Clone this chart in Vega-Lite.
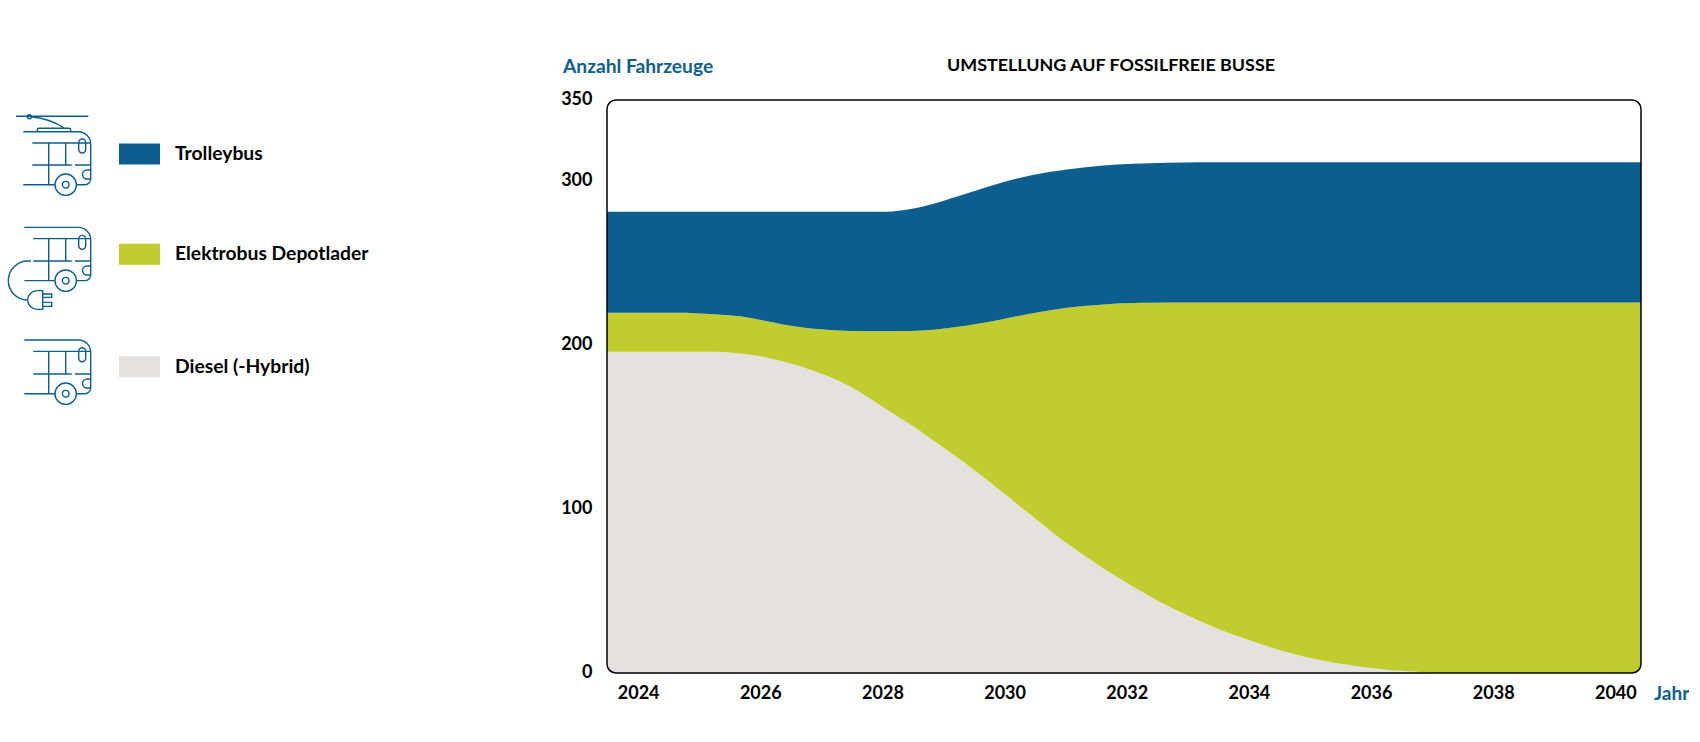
{
  "$schema": "https://vega.github.io/schema/vega-lite/v6.json",
  "background": "white",
  "padding": {"left": 0, "top": 57, "right": 0, "bottom": 0},
  "bounds": "flush",
  "spacing": 0,
  "config": {
    "view": {"stroke": null},
    "font": "Lato",
    "axis": {"labelFont": "Lato", "titleFont": "Lato"}
  },
  "hconcat": [
    {
      "width": 606.5,
      "height": 573,
      "data": {
        "values": [
          {"series": "Trolleybus"},
          {"series": "Elektrobus  Depotlader"},
          {"series": "Diesel (-Hybrid)"}
        ]
      },
      "encoding": {
        "y": {
          "field": "series",
          "type": "nominal",
          "axis": null,
          "sort": null,
          "scale": {
            "type": "point",
            "domain": ["Trolleybus", "Elektrobus  Depotlader", "Diesel (-Hybrid)"],
            "range": [54, 266.7],
            "padding": 0
          }
        }
      },
      "layer": [
        {
          "mark": {
            "type": "point",
            "filled": false,
            "size": 4,
            "stroke": "#0B5E8E",
            "strokeWidth": 1.4,
            "opacity": 1,
            "yOffset": {"expr": "datum.series === 'Elektrobus  Depotlader' ? -6 : 0"}
          },
          "encoding": {
            "x": {"datum": 65, "type": "quantitative", "axis": null, "scale": {"domain": [0, 606.5], "nice": false}},
            "shape": {
              "field": "series",
              "type": "nominal",
              "legend": null,
              "scale": {
                "domain": ["Trolleybus", "Elektrobus  Depotlader", "Diesel (-Hybrid)"],
                "range": [
                  "M-49,-37.7H23.3M-33.7,-37.3A2,2 0 1 1 -37.7,-37.3A2,2 0 1 1 -33.7,-37.3M-33.7,-37.2Q-14,-35 -1,-26M-27.7,-22.3V-24.5Q-27.7,-25.7 -26,-25.7H4Q5.7,-25.7 5.7,-22.3M-41.7,-22.3H13.3A12.4,12.4 0 0 1 25.7,-10V25A5.7,5.7 0 0 1 20,30.7H11M-10,30.7H-41.7M11.4,30.7A10.7,10.7 0 1 1 -10,30.7A10.7,10.7 0 1 1 11.4,30.7M4,30.7A3.3,3.3 0 1 1 -2.6,30.7A3.3,3.3 0 1 1 4,30.7M-32.7,-11H25.7M-32.7,11H6.7M10,11H25.7M-16.3,-11V30.7M0.7,-11V11M13.7,-11.5A3.5,3.5 0 0 1 20.7,-11.5V-4.5A3.5,3.5 0 0 1 13.7,-4.5ZM25.7,16H22A4.5,4.5 0 0 0 22,25H25.7",
                  "M-40.7,-27H13.3A12.3,12.3 0 0 1 25.7,-14.7V20.6A5.7,5.7 0 0 1 20,26.3H11M-10,26.3H-40.7M11.4,26.3A10.7,10.7 0 1 1 -10,26.3A10.7,10.7 0 1 1 11.4,26.3M4,26.3A3.3,3.3 0 1 1 -2.6,26.3A3.3,3.3 0 1 1 4,26.3M-31.7,-15.7H25.7M-31.7,6.7H6.7M10,6.7H25.7M-16.3,-15.7V26.3M0.7,-15.7V6.7M13.7,-15.5A3.5,3.5 0 0 1 20.7,-15.5V-8.5A3.5,3.5 0 0 1 13.7,-8.5ZM25.7,11.7H22A4.5,4.5 0 0 0 22,20.7H25.7M-34,6.7H-36.7A19.5,19.5 0 0 0 -37.7,45.7M-22.3,36.3V55H-28A9.3,9.3 0 0 1 -28,36.3ZM-22.3,39.7H-13.3V43H-22.3M-22.3,48H-13.3V52H-22.3",
                  "M-40.7,-26.7H13.3A12.3,12.3 0 0 1 25.7,-14.4V21.3A5.7,5.7 0 0 1 20,27H11M-10,27H-40.7M11.4,27A10.7,10.7 0 1 1 -10,27A10.7,10.7 0 1 1 11.4,27M4,27A3.3,3.3 0 1 1 -2.6,27A3.3,3.3 0 1 1 4,27M-31.7,-15.3H25.7M-31.7,7.3H6.7M10,7.3H25.7M-16.3,-15.3V27M0.7,-15.3V7.3M13.7,-15.5A3.5,3.5 0 0 1 20.7,-15.5V-8.5A3.5,3.5 0 0 1 13.7,-8.5ZM25.7,12.3H22A4.5,4.5 0 0 0 22,21.3H25.7"
                ]
              }
            }
          }
        },
        {
          "mark": {
            "type": "rect",
            "height": 21,
            "yOffset": {"expr": "datum.series === 'Elektrobus  Depotlader' ? -6 : 0"}
          },
          "encoding": {
            "x": {"datum": 119, "type": "quantitative"},
            "x2": {"datum": 160},
            "color": {
              "field": "series",
              "type": "nominal",
              "legend": null,
              "scale": {
                "domain": ["Trolleybus", "Elektrobus  Depotlader", "Diesel (-Hybrid)"],
                "range": ["#0B5E8E", "#C1CD2F", "#E4E1DE"]
              }
            }
          }
        },
        {
          "mark": {
            "type": "text",
            "align": "left",
            "baseline": "middle",
            "font": "Lato",
            "fontWeight": "bold",
            "fontSize": 19.3,
            "color": "#000000",
            "yOffset": {"expr": "datum.series === 'Elektrobus  Depotlader' ? -6 : 0"}
          },
          "encoding": {
            "x": {"datum": 175, "type": "quantitative"},
            "text": {"field": "series", "type": "nominal"}
          }
        }
      ]
    },
    {
      "width": 1034,
      "height": 573,
      "title": {
        "text": "UMSTELLUNG AUF FOSSILFREIE BUSSE",
        "font": "Lato",
        "fontWeight": "bold",
        "fontSize": 17.9,
        "color": "#000000",
        "anchor": "middle",
        "dx": -13,
        "offset": -18
      },
      "layer": [
        {
          "data": {
            "values": [
              {"jahr": 2023.49, "Diesel (-Hybrid)": 196.3, "Elektrobus  Depotlader": 23.8, "Trolleybus": 61.7},
              {"jahr": 2024.64, "Diesel (-Hybrid)": 196.3, "Elektrobus  Depotlader": 23.8, "Trolleybus": 61.7},
              {"jahr": 2025.24, "Diesel (-Hybrid)": 196.3, "Elektrobus  Depotlader": 22.9, "Trolleybus": 62.6},
              {"jahr": 2025.67, "Diesel (-Hybrid)": 195.1, "Elektrobus  Depotlader": 22.8, "Trolleybus": 63.9},
              {"jahr": 2026.11, "Diesel (-Hybrid)": 192.6, "Elektrobus  Depotlader": 22.3, "Trolleybus": 66.9},
              {"jahr": 2026.55, "Diesel (-Hybrid)": 188.5, "Elektrobus  Depotlader": 23.3, "Trolleybus": 70},
              {"jahr": 2027.09, "Diesel (-Hybrid)": 181.5, "Elektrobus  Depotlader": 28.1, "Trolleybus": 72.2},
              {"jahr": 2027.48, "Diesel (-Hybrid)": 174.8, "Elektrobus  Depotlader": 34.1, "Trolleybus": 72.9},
              {"jahr": 2027.75, "Diesel (-Hybrid)": 168.8, "Elektrobus  Depotlader": 40, "Trolleybus": 73},
              {"jahr": 2028.07, "Diesel (-Hybrid)": 161, "Elektrobus  Depotlader": 47.8, "Trolleybus": 73},
              {"jahr": 2028.46, "Diesel (-Hybrid)": 151.8, "Elektrobus  Depotlader": 57.1, "Trolleybus": 74.5},
              {"jahr": 2028.84, "Diesel (-Hybrid)": 141.9, "Elektrobus  Depotlader": 67.8, "Trolleybus": 77},
              {"jahr": 2029.39, "Diesel (-Hybrid)": 127.2, "Elektrobus  Depotlader": 85, "Trolleybus": 80.8},
              {"jahr": 2029.93, "Diesel (-Hybrid)": 111.4, "Elektrobus  Depotlader": 104.4, "Trolleybus": 83.5},
              {"jahr": 2030.48, "Diesel (-Hybrid)": 95, "Elektrobus  Depotlader": 124.9, "Trolleybus": 84.5},
              {"jahr": 2031.02, "Diesel (-Hybrid)": 79.2, "Elektrobus  Depotlader": 143.9, "Trolleybus": 84.5},
              {"jahr": 2031.57, "Diesel (-Hybrid)": 65.1, "Elektrobus  Depotlader": 159.9, "Trolleybus": 84.9},
              {"jahr": 2032.11, "Diesel (-Hybrid)": 52.7, "Elektrobus  Depotlader": 173.3, "Trolleybus": 85.1},
              {"jahr": 2032.39, "Diesel (-Hybrid)": 46.6, "Elektrobus  Depotlader": 179.5, "Trolleybus": 85.3},
              {"jahr": 2032.93, "Diesel (-Hybrid)": 36.3, "Elektrobus  Depotlader": 190, "Trolleybus": 85.6},
              {"jahr": 2033.48, "Diesel (-Hybrid)": 27.2, "Elektrobus  Depotlader": 199.1, "Trolleybus": 85.7},
              {"jahr": 2034.02, "Diesel (-Hybrid)": 19.9, "Elektrobus  Depotlader": 206.4, "Trolleybus": 85.7},
              {"jahr": 2034.57, "Diesel (-Hybrid)": 13.3, "Elektrobus  Depotlader": 213, "Trolleybus": 85.7},
              {"jahr": 2035.12, "Diesel (-Hybrid)": 8.3, "Elektrobus  Depotlader": 218, "Trolleybus": 85.7},
              {"jahr": 2035.66, "Diesel (-Hybrid)": 4.7, "Elektrobus  Depotlader": 221.6, "Trolleybus": 85.7},
              {"jahr": 2036.21, "Diesel (-Hybrid)": 2.2, "Elektrobus  Depotlader": 224.1, "Trolleybus": 85.7},
              {"jahr": 2036.76, "Diesel (-Hybrid)": 0.8, "Elektrobus  Depotlader": 225.5, "Trolleybus": 85.7},
              {"jahr": 2037.02, "Diesel (-Hybrid)": 0, "Elektrobus  Depotlader": 226.3, "Trolleybus": 85.7},
              {"jahr": 2040.42, "Diesel (-Hybrid)": 0, "Elektrobus  Depotlader": 226.3, "Trolleybus": 85.7}
            ]
          },
          "transform": [
            {"fold": ["Diesel (-Hybrid)", "Elektrobus  Depotlader", "Trolleybus"], "as": ["series", "anzahl"]}
          ],
          "mark": {"type": "area", "interpolate": "monotone"},
          "encoding": {
            "x": {
              "field": "jahr",
              "type": "quantitative",
              "scale": {"domain": [2023.49, 2040.42], "nice": false},
              "axis": {
                "values": [2024, 2026, 2028, 2030, 2032, 2034, 2036, 2038, 2040],
                "format": "d",
                "grid": false,
                "domain": false,
                "ticks": false,
                "labelFontSize": 18,
                "labelFontWeight": "bold",
                "labelColor": "#000000",
                "labelPadding": 11,
                "labelFlush": false,
                "labelOverlap": false,
                "title": "Jahr",
                "titleColor": "#0B5E8E",
                "titleFontSize": 19,
                "titleFontWeight": "bold",
                "titleAlign": "left",
                "titleBaseline": "middle",
                "titleAnchor": "start",
                "titleX": 1046.5,
                "titleY": 20
              }
            },
            "y": {
              "field": "anzahl",
              "type": "quantitative",
              "stack": "zero",
              "scale": {"domain": [0, 350], "nice": false},
              "axis": {
                "values": [0, 100, 200, 300, 350],
                "grid": false,
                "domain": false,
                "ticks": false,
                "labelFontSize": 18,
                "labelFontWeight": "bold",
                "labelColor": "#000000",
                "labelPadding": 15,
                "labelOffset": -1,
                "labelFlush": false,
                "labelOverlap": false,
                "title": "Anzahl Fahrzeuge",
                "titleColor": "#0B5E8E",
                "titleFontSize": 19.2,
                "titleFontWeight": "bold",
                "titleAngle": 0,
                "titleAlign": "left",
                "titleBaseline": "middle",
                "titleX": -44.5,
                "titleY": -34
              }
            },
            "order": {"field": "series", "sort": "ascending"},
            "color": {
              "field": "series",
              "type": "nominal",
              "legend": null,
              "scale": {
                "domain": ["Trolleybus", "Elektrobus  Depotlader", "Diesel (-Hybrid)"],
                "range": ["#0B5E8E", "#C1CD2F", "#E4E1DE"]
              }
            }
          }
        },
        {
          "data": {"values": [{"rahmen": "maske"}]},
          "mark": {"type": "rect", "fill": null, "stroke": "white", "strokeWidth": 12, "cornerRadius": 15},
          "encoding": {
            "x": {"datum": 2023.392, "type": "quantitative"},
            "x2": {"datum": 2040.518},
            "y": {"datum": -3.67, "type": "quantitative"},
            "y2": {"datum": 353.67}
          }
        },
        {
          "data": {"values": [{"rahmen": "linie"}]},
          "mark": {"type": "rect", "fill": null, "stroke": "#000000", "strokeWidth": 1.5, "cornerRadius": 9},
          "encoding": {
            "x": {"datum": 2023.49, "type": "quantitative"},
            "x2": {"datum": 2040.42},
            "y": {"datum": 0, "type": "quantitative"},
            "y2": {"datum": 350}
          }
        }
      ]
    }
  ]
}
